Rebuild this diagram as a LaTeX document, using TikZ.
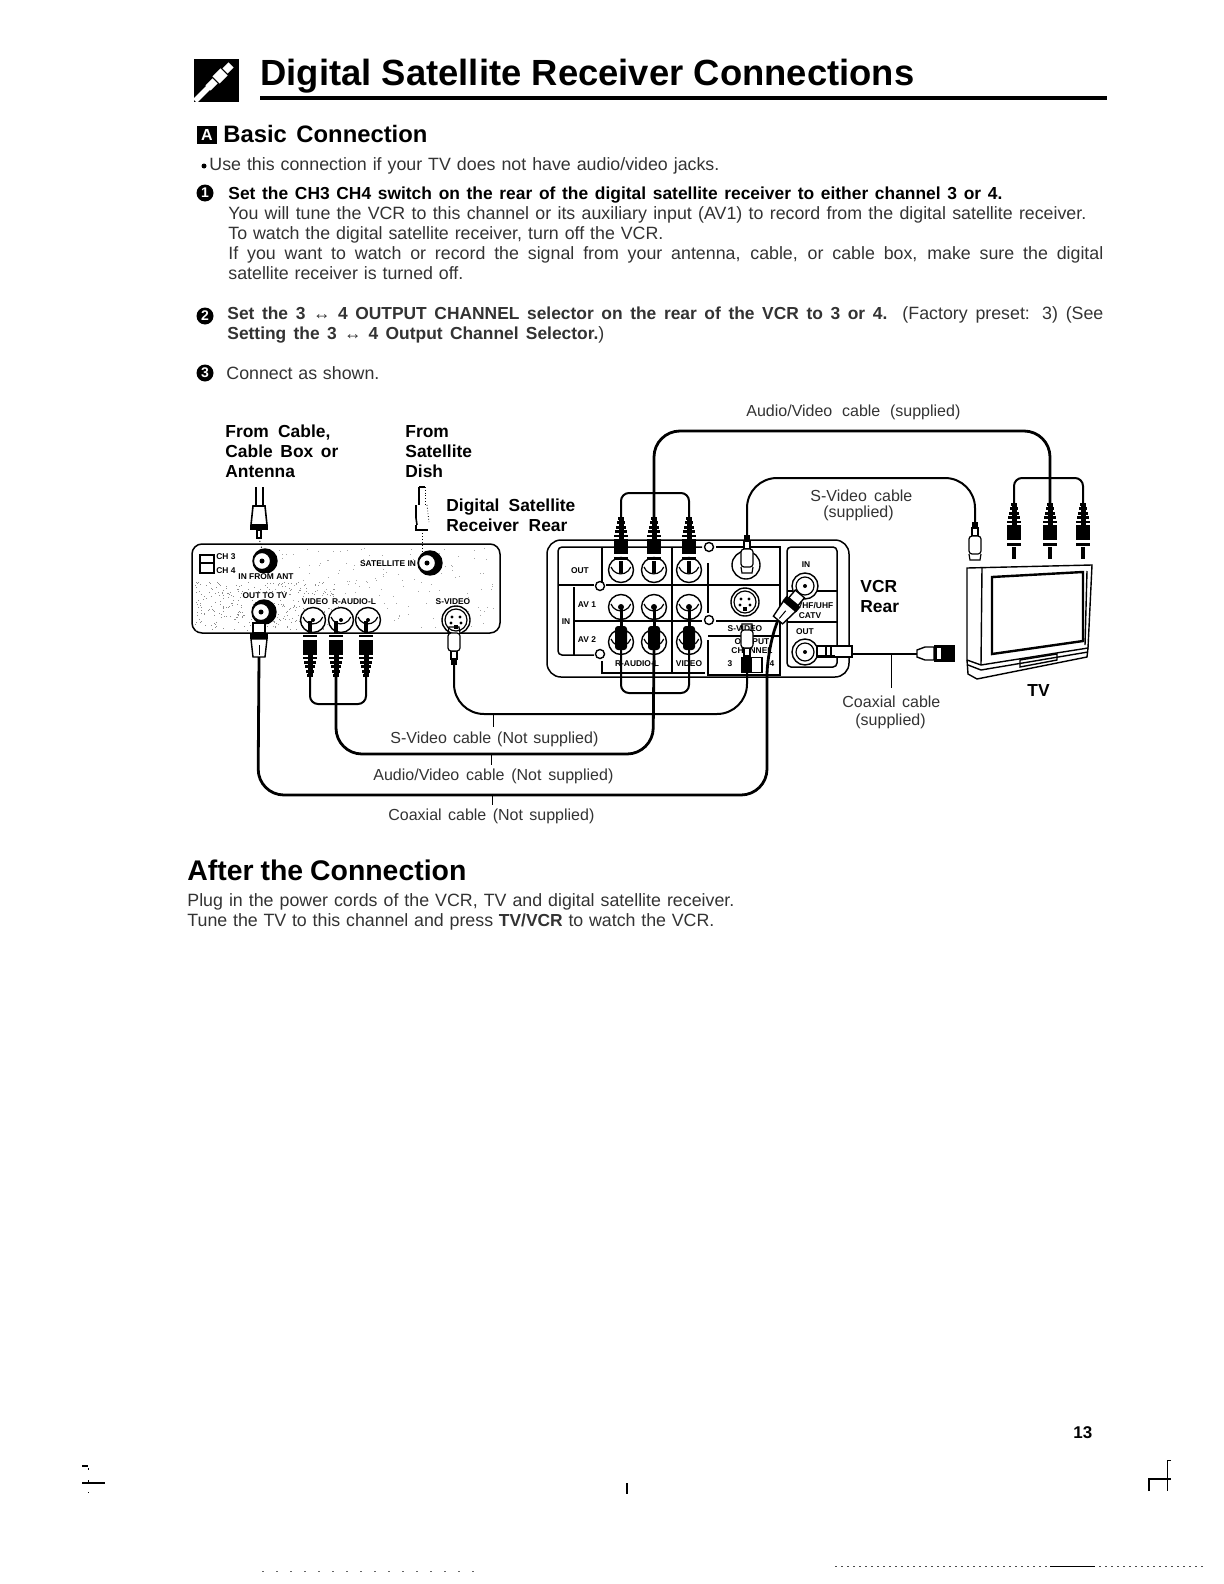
\documentclass[tikz,border=0pt]{standalone}
\usepackage{fontspec}
\setmainfont{Liberation Sans}
\newcommand{\fw}[2]{\makebox[\dimexpr #1pt/2\relax][s]{#2}}
\newcommand{\fbody}{\fontsize{8.9}{10}\selectfont\color{black!80}}
\newcommand{\fbold}{\fontsize{8.7}{10}\selectfont\bfseries}
\newcommand{\flab}{\fontsize{8}{9}\selectfont\color{black!80}}
\newcommand{\fdia}{\fontsize{8.7}{10}\selectfont\bfseries}
\newcommand{\ftiny}{\fontsize{4.2}{5}\selectfont\bfseries}
\tikzset{
 txt/.style={inner sep=0pt,anchor=base west,font=\fbody},
 btxt/.style={inner sep=0pt,anchor=base west,font=\fbold},
 ltxt/.style={inner sep=0pt,anchor=base west,font=\flab},
 dtxt/.style={inner sep=0pt,anchor=base west,font=\fdia},
 ttxt/.style={inner sep=0pt,anchor=center,font=\ftiny},
 num/.style={circle,fill=black,text=white,inner sep=0pt,minimum size=8.5pt,font=\fontsize{7}{7}\selectfont\bfseries},
 cable/.style={line width=1.4pt,rounded corners=#1},
 cable/.default=13pt,
 thincable/.style={line width=1pt,rounded corners=#1},
 thincable/.default=14pt,
 panel/.style={line width=0.75pt,rounded corners=5pt},
 pline/.style={line width=0.75pt},
 tick/.style={line width=0.5pt},
 jackc/.style={circle,draw,line width=0.7pt,fill=white,inner sep=0pt,minimum size=#1},
 jackc/.default=12pt,
 hole/.style={circle,draw,line width=0.7pt,fill=white,inner sep=0pt,minimum size=4.5pt},
 rca/.pic={
  \foreach \i/\w in {0/3,1/4,2/5,3/6,4/7}{\fill (-\w,\i*4.4) rectangle (\w,\i*4.4+2.8);}
  \fill (-2.5,0) rectangle (2.5,22);
  \fill (-7,22) rectangle (7,37);
  \fill (-7,40) rectangle (7,42.5);
  \fill (-1.6,44) rectangle (1.6,56);
 },
 svplug/.pic={
  \fill (-3,0) rectangle (3,6);
  \draw[line width=.6pt,fill=white] (-3,6) rectangle (3,14);
  \draw[line width=.6pt,fill=white,rounded corners=1.5pt] (-6,14) rectangle (6,32);
  \draw[line width=.6pt] (-6,32) -- (-5,38) -- (5,38) -- (6,32);
 },
 coaxplug/.pic={
  \draw[line width=.7pt,fill=white] (-6,0) -- (-8,18) -- (8,18) -- (6,0) -- cycle;
  \fill (-9,18) rectangle (9,24);
  \draw[line width=.7pt,fill=white] (-6,24) rectangle (6,34);
  \draw[line width=.5pt] (0,2) -- (0,12);
 },
}
\newcommand{\cresjack}[3]{%
 \node[jackc=12pt,fill=black] (#1) at (#2,#3) {};
 \fill[white] (#2-3,#3) circle (8.5);
 \draw[line width=.6pt] (#2-3,#3) circle (8.5);
 \fill (#2-3,#3) circle (2.5);
}
\newcommand{\avjack}[3]{%
 \node[jackc=12.5pt] (#1) at (#2,#3) {};
 \draw[line width=.6pt] (#2-10,#3-3) arc[start angle=160,end angle=20,radius=10.5];
}
\newcommand{\svjack}[3]{%
 \node[jackc=14pt] (#1) at (#2,#3) {};
 \draw[line width=.6pt] (#2,#3) circle (11);
 \foreach \dx/\dy in {-4/-3,4/-3,-5/3,5/3}{\fill (#2+\dx,#3+\dy) circle (1.7);}
 \fill (#2-2,#3+5) rectangle (#2+2,#3+9);
}
\newcommand{\rfjack}[3]{%
 \node[jackc=13pt] (#1) at (#2,#3) {};
 \draw[line width=.6pt] (#2,#3) circle (9);
 \fill (#2,#3) circle (2);
}
\begin{document}
\begin{tikzpicture}[x=0.5pt,y=-0.5pt]
\useasboundingbox (0,0) rectangle (1224,1584);
\fill[white] (0,0) rectangle (1224,1584);

% ---------- heading
\fill (194,59) rectangle (239,102);
\draw[white,line width=2.8pt] (195,101) -- (209,87);
\draw[white,line width=3.6pt] (208,88) -- (215,81);
\draw[white,line width=5pt] (216,80) -- (224,72);
\draw[white,line width=3.6pt] (225,71) -- (231,65);
\node[inner sep=0pt,anchor=base west,font=\fontsize{18.2}{20}\selectfont\bfseries] (title) at (260,86) {\fw{654}{Digital Satellite Receiver Connections}};
\fill (260,96) rectangle (1107,100);
\fill (197,126) rectangle (217,144);
\node[inner sep=0pt,text=white,font=\fontsize{8}{8}\selectfont\bfseries] (boxA) at (207,135) {A};
\node[inner sep=0pt,anchor=base west,font=\fontsize{11.9}{13}\selectfont\bfseries] (basic) at (223,142) {\fw{204}{Basic Connection}};
\fill (204,166) circle (2.5);
\node[txt] (use) at (209,170) {\fw{510}{Use this connection if your TV does not have audio/video jacks.}};

\node[num] (n1) at (205,193) {1};
\node[btxt] (l1) at (228,199) {\fw{774}{Set the CH3 CH4 switch on the rear of the digital satellite receiver to either channel 3 or 4.}};
\node[txt] (l2) at (228,219) {\fw{858}{You will tune the VCR to this channel or its auxiliary input (AV1) to record from the digital satellite receiver.}};
\node[txt] (l3) at (228,239) {\fw{435}{To watch the digital satellite receiver, turn off the VCR.}};
\node[txt] (l4) at (228,259) {\fw{875}{If you want to watch or record the signal from your antenna, cable, or cable box, make sure the digital}};
\node[txt] (l5) at (228,279) {\fw{235}{satellite receiver is turned off.}};
\node[num] (n2) at (205,316) {2};
\node[txt] (l6) at (227,319) {\fw{876}{{\fbold Set the 3 ↔ 4 OUTPUT CHANNEL selector on the rear of the VCR to 3 or 4.} (Factory preset: 3) (See}};
\node[txt] (l7) at (227,339) {\fw{377}{{\fbold Setting the 3 ↔ 4 Output Channel Selector.})}};
\node[num] (n3) at (205,373) {3};
\node[txt] (l8) at (226,379) {\fw{153}{Connect as shown.}};

% ---------- diagram labels
\node[dtxt] (fc1) at (225,437) {\fw{105}{From Cable,}};
\node[dtxt] (fc2) at (225,457) {\fw{113}{Cable Box or}};
\node[dtxt] (fc3) at (225,477) {Antenna};
\node[dtxt] (fs1) at (405,437) {From};
\node[dtxt] (fs2) at (405,457) {Satellite};
\node[dtxt] (fs3) at (405,477) {Dish};
\node[dtxt] (dr1) at (446,511) {\fw{129}{Digital Satellite}};
\node[dtxt] (dr2) at (446,531) {\fw{121}{Receiver Rear}};
\node[ltxt] (avs) at (746,416) {\fw{214}{Audio/Video cable (supplied)}};
\node[ltxt] (svs1) at (810,501) {\fw{102}{S-Video cable}};
\node[ltxt] (svs2) at (823,517) {\fw{76}{(supplied)}};
\node[dtxt] (vcr1) at (860,592) {VCR};
\node[dtxt] (vcr2) at (860,612) {Rear};
\node[dtxt] (tvl) at (1027,696) {TV};
\node[ltxt] (cxs1) at (842,707) {\fw{98}{Coaxial cable}};
\node[ltxt] (cxs2) at (855,725) {\fw{73}{(supplied)}};
\node[ltxt] (svn) at (390,743) {\fw{208}{S-Video cable (Not supplied)}};
\node[ltxt] (avn) at (373,780) {\fw{240}{Audio/Video cable (Not supplied)}};
\node[ltxt] (cxn) at (388,820) {\fw{206}{Coaxial cable (Not supplied)}};

% ---------- receiver
\draw[panel] (192,544) rectangle (500,633);
\pgfmathsetseed{11}
\foreach \i in {1,...,340}{\pgfmathsetmacro{\px}{195+rnd*140}\pgfmathsetmacro{\py}{582+rnd*48}\fill[black!45] (\px,\py) rectangle (\px+1,\py+1);}
\foreach \i in {1,...,170}{\pgfmathsetmacro{\px}{270+rnd*225}\pgfmathsetmacro{\py}{548+rnd*80}\fill[black!35] (\px,\py) rectangle (\px+1,\py+1);}
\node[draw,line width=.6pt,inner sep=0pt,minimum width=7pt,minimum height=9pt] (sw) at (207,564) {};
\draw[line width=.6pt] (200,563) -- (214,563);
\node[ttxt] (ch3) at (226,557) {CH 3};
\node[ttxt] (ch4) at (226,571) {CH 4};
\cresjack{jant}{265}{561}
\node[ttxt,fill=white,inner sep=.3pt] (ifa) at (266,577) {IN FROM ANT};
\node[ttxt,fill=white,inner sep=.3pt] (otv) at (265,596) {OUT TO TV};
\cresjack{jtv}{264}{612}
\node[ttxt,fill=white,inner sep=.3pt] (sat) at (388,564) {SATELLITE IN};
\cresjack{jsat}{430}{563}
\node[ttxt,fill=white,inner sep=.3pt] (vid) at (315,602) {VIDEO};
\node[ttxt,fill=white,inner sep=.3pt] (rau) at (354,602) {R-AUDIO-L};
\node[ttxt,fill=white,inner sep=.3pt] (svd) at (453,602) {S-VIDEO};
\avjack{jv}{313}{620}
\avjack{jr}{341}{620}
\avjack{jl}{368}{620}
\svjack{jsv}{456}{620}
\fill (313,620) circle (2);\fill (341,620) circle (2);\fill (368,620) circle (2);

% ---------- VCR panel
\draw[panel,rounded corners=7pt] (547,540) rectangle (849,677);
\draw[pline,rounded corners=2pt] (594,655) -- (558,655) -- (558,547) -- (702,547);
\draw[pline] (716,547) -- (780,547) -- (780,675) -- (708,675) -- (708,640);
\draw[pline] (708,636) -- (780,636);
\draw[pline] (558,585) -- (594,585); \draw[pline] (606,585) -- (780,585);
\draw[pline] (574,621) -- (702,621); \draw[pline] (716,621) -- (780,621);
\draw[pline] (574,587) -- (574,655);
\draw[pline] (602,547) -- (602,585);
\draw[pline] (672,547) -- (672,673);
\draw[pline] (708,563) -- (708,613);
\draw[pline] (602,661) -- (602,673) -- (705,673);
\draw[pline,rounded corners=2pt] (787,667) rectangle (837,547);
\draw[pline] (787,591) -- (837,591);
\draw[pline] (787,622) -- (837,622);
\node[hole] (h1) at (709,547) {};
\node[hole] (h2) at (600,586) {};
\node[hole] (h3) at (709,620) {};
\node[hole] (h4) at (600,654) {};
\node[ttxt] (vo) at (580,571) {OUT};
\node[ttxt] (va1) at (587,605) {AV 1};
\node[ttxt] (va2) at (587,640) {AV 2};
\node[ttxt] (vin) at (566,622) {IN};
\node[ttxt,fill=white,inner sep=.5pt] (vau) at (637,664) {R-AUDIO-L};
\node[ttxt,fill=white,inner sep=.5pt] (vvi) at (689,664) {VIDEO};
\node[ttxt] (vsv) at (745,629) {S-VIDEO};
\node[ttxt] (voc1) at (752,642) {OUTPUT};
\node[ttxt] (voc2) at (752,651) {CHANNEL};
\node[ttxt] (v3) at (730,664) {3};
\node[ttxt] (v4) at (772,664) {4};
\node[draw,line width=.6pt,inner sep=0pt,minimum width=10pt,minimum height=7.5pt] (vsw) at (752,665) {};
\fill (742,658) rectangle (752,673);
\node[ttxt] (vri) at (806,565) {IN};
\node[ttxt] (vuh) at (815,606) {VHF/UHF};
\node[ttxt] (vct) at (810,616) {CATV};
\node[ttxt] (vro) at (805,632) {OUT};
\foreach \nm/\cx/\cy in {a/621/570,b/654/570,c/689/570,d/621/607,e/654/607,f/689/607,g/621/642,h/654/642,i/689/642}{\avjack{j\nm}{\cx}{\cy}}
\node[jackc=14pt] (svo) at (746,565) {};
\svjack{svi}{745}{602}
\rfjack{rfi}{805}{586}
\rfjack{rfo}{805}{652}

% ---------- plugs
% antenna and dish
\draw[line width=.6pt,fill=white] (256,487) -- (256,506) -- (263,506) -- (263,487);
\draw[line width=.8pt,fill=white] (253,506) -- (251,525) -- (267,525) -- (265,506) -- cycle;
\fill (250,525) rectangle (268,530);
\draw[line width=.6pt] (257,530) rectangle (261,538);
\draw[line width=.5pt,densely dotted] (259,538) -- (jant);
\draw[line width=.8pt] (419,487) -- (419,505);
\draw[line width=.4pt,densely dotted] (425,487) -- (425,505);
\draw[line width=.8pt] (419,487) -- (425,487);
\draw[line width=.8pt] (416,505) -- (416,518) -- (417,525);
\draw[line width=.4pt,densely dotted] (427,505) -- (429,522);
\draw[line width=.8pt] (416,525) -- (416,530) -- (428,530);
\draw[line width=.5pt,densely dotted] (422,533) -- (422,553);
% receiver plugs
\pic[yscale=-1] at (310,677) {rca};
\pic[yscale=-1] at (336,677) {rca};
\pic[yscale=-1] at (366,677) {rca};
\pic[yscale=-1] at (454,665) {svplug};
\pic[yscale=-1] at (259,657) {coaxplug};
\coordinate (rcaL) at (310,677);
\coordinate (rcaM) at (336,677);
\coordinate (rcaR) at (366,677);
\coordinate (svR) at (454,665);
\coordinate (cxR) at (259,657);
% VCR top row plugs
\pic at (621,517) {rca};
\pic at (654,517) {rca};
\pic at (689,517) {rca};
\coordinate (vtL) at (621,517);
\coordinate (vtM) at (654,517);
\coordinate (vtR) at (689,517);
% VCR AV2 plugs
\foreach \px in {621,654,689}{
 \fill[rounded corners=1.5pt] (\px-6,626) rectangle (\px+6,650);
 \fill (\px-1.5,607) rectangle (\px+1.5,628);
 \fill (\px,607) circle (3);
}
\coordinate (vbL) at (621,650);
\coordinate (vbM) at (654,650);
\coordinate (vbR) at (689,650);
% VCR S-video plugs
\pic at (747,535) {svplug};
\pic[yscale=-1] at (747,662) {svplug};
\coordinate (svVo) at (747,535);
\coordinate (svVi) at (747,662);
% VCR coax in plug
\pic[rotate=-40,yscale=-1] at (778,620) {coaxplug};
\coordinate (cxV) at (778,620);
% coax out plug
\draw[line width=.7pt,fill=white] (817,646) rectangle (852,657);
\fill (817,655) rectangle (835,658);
\draw[line width=1pt] (826,646) -- (826,655); \draw[line width=1pt] (831,646) -- (831,655);
\coordinate (cxO) at (852,654);
% free coax plug
\draw[line width=.7pt,fill=white] (917,650) -- (925,647) -- (934,647) -- (934,660) -- (925,660) -- (917,657) -- cycle;
\fill (934,645) rectangle (955,662);
\fill[white] (937,648) rectangle (941,659);
\coordinate (cxF) at (917,654);
% TV plugs
\pic at (1014,503) {rca};
\pic at (1050,503) {rca};
\pic at (1083,503) {rca};
\coordinate (tvL) at (1014,503);
\coordinate (tvM) at (1050,503);
\coordinate (tvR) at (1083,503);
\pic at (975,522) {svplug};
\coordinate (svT) at (975,522);

% ---------- cables
\draw[thincable=4pt] (rcaL) -- (310,704) -- (366,704) -- (rcaR);
\draw[thincable=4pt] (vtL) -- (621,493) -- (689,493) -- (vtR);
\draw[thincable=4pt] (vbL) -- (621,693) -- (689,693) -- (vbR);
\draw[thincable=4pt] (tvL) -- (1014,478) -- (1083,478) -- (tvR);
\draw[cable=13pt] (vtM) -- (654,431) -- (1050,431) -- (tvM);
\draw[thincable=15pt] (svVo) -- (747,478) -- (975,478) -- (svT);
\draw[thincable=15pt] (svR) -- (454,714) -- (747,714) -- (svVi);
\draw[cable=13pt] (rcaM) -- (336,754) -- (653,754) -- (vbM);
\draw[cable=13pt] (cxR) -- (258,795) -- (767,795) -- (767,650) -- (cxV);
\draw[line width=.8pt] (cxO) -- (cxF);

% ---------- ticks
\coordinate (tk1a) at (493,714); \coordinate (tk1b) at (493,727);
\coordinate (tk2a) at (491,754); \coordinate (tk2b) at (491,765);
\coordinate (tk3a) at (492,795); \coordinate (tk3b) at (492,805);
\coordinate (tk4a) at (891,654); \coordinate (tk4b) at (891,688);
\draw[tick] (tk1a) -- (tk1b);
\draw[tick] (tk2a) -- (tk2b);
\draw[tick] (tk3a) -- (tk3b);
\draw[tick] (tk4a) -- (tk4b);

% ---------- TV
\begin{scope}[line width=.7pt]
\draw (967,568) -- (1092,565) -- (1088,648) -- (981,665) -- (967,660) -- cycle;
\draw (982,567) -- (981,665);
\draw (967,660) -- (968,674) -- (977,679) -- (1087,657) -- (1088,648);
\draw (968,665) -- (981,670) -- (1088,652);
\draw[line width=1.2pt] (992,577) -- (1083,572) -- (1083,641) -- (992,654) -- cycle;
\draw (1087,571) -- (1085,645);
\draw (1020,660) -- (1057,654) -- (1057,660) -- (1020,667) -- cycle;
\end{scope}

% ---------- after the connection
\node[inner sep=0pt,anchor=base west,font=\fontsize{14.2}{15}\selectfont\bfseries] (after) at (187,880) {\fw{279}{After the Connection}};
\node[txt] (a1) at (187,906) {\fw{547}{Plug in the power cords of the VCR, TV and digital satellite receiver.}};
\node[txt] (a2) at (187,926) {\fw{527}{Tune the TV to this channel and press {\fbold TV/VCR} to watch the VCR.}};
\node[inner sep=0pt,anchor=base west,font=\fontsize{8.5}{10}\selectfont\bfseries] (pg) at (1073,1438) {13};

% ---------- printer's marks
\draw[line width=.5pt] (1171,1460) -- (1167,1460) -- (1167,1491);
\draw[line width=.7pt] (1149,1491) -- (1149,1479) -- (1171,1479);
\draw[line width=.8pt] (82,1483) -- (105,1483);
\draw[line width=1pt] (82,1466) -- (88,1466);
\draw[line width=.4pt,dash pattern=on 1pt off 5pt] (88,1468) -- (88,1493);
\draw[line width=.7pt] (627,1483) -- (627,1494);
\draw[line width=.4pt,dash pattern=on 1pt off 2pt,black!70] (835,1566) -- (1203,1566);
\draw[line width=.5pt] (1050,1566) -- (1095,1566);
\draw[line width=.4pt,dash pattern=on 1pt off 6pt,black!60] (262,1571) -- (479,1571);
\end{tikzpicture}
\end{document}
